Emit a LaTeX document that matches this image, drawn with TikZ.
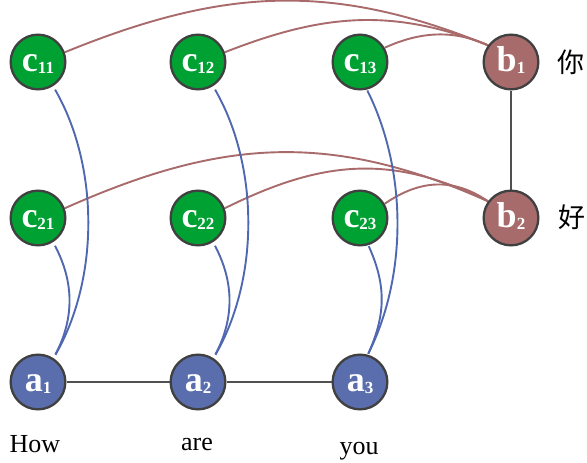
\documentclass[tikz,border=0pt]{standalone}
\usepackage{fontspec}
\usetikzlibrary{backgrounds}
\setmainfont{Liberation Serif}
\newfontfamily\cjk{Noto Sans CJK SC}
\definecolor{cgreen}{HTML}{00A133}
\definecolor{cbrown}{HTML}{A86B6B}
\definecolor{cblue}{HTML}{5A6EAD}
\definecolor{eblue}{HTML}{5068B0}
\definecolor{ered}{HTML}{A86A6A}
\definecolor{bord}{HTML}{404040}
\definecolor{lgray}{HTML}{505050}
\newcommand\nlab[2]{{\fontsize{36}{36}\selectfont\bfseries #1}{\fontsize{17}{17}\selectfont\bfseries\raisebox{-1.5pt}{#2}}}
\begin{document}
\begin{tikzpicture}[x=1pt,y=-1pt,
  vnode/.style={circle, draw=bord, line width=2.3pt, minimum size=54.7pt, inner sep=0pt,
    text=white, text height=19pt, text depth=0pt},
  gnode/.style={vnode, fill=cgreen},
  bnode/.style={vnode, fill=cbrown},
  anode/.style={vnode, fill=cblue},
  redge/.style={draw=ered, line width=1.9pt},
  bedge/.style={draw=eblue, line width=1.9pt},
  gedge/.style={draw=lgray, line width=2pt},
  word/.style={font=\fontsize{26}{26}\selectfont, anchor=base, inner sep=0pt},
  hanzi/.style={font=\cjk\fontsize{27}{27}\selectfont, inner sep=0pt},
]
\useasboundingbox (0,0) rectangle (587,463);
\node[gnode] (c11) at (38,62) {\nlab{c}{11}};
\node[gnode] (c12) at (198,62) {\nlab{c}{12}};
\node[gnode] (c13) at (360,62) {\nlab{c}{13}};
\node[bnode] (b1) at (511,62) {\nlab{b}{1}};
\node[gnode] (c21) at (38,218) {\nlab{c}{21}};
\node[gnode] (c22) at (198,218) {\nlab{c}{22}};
\node[gnode] (c23) at (360,218) {\nlab{c}{23}};
\node[bnode] (b2) at (511,218) {\nlab{b}{2}};
\node[anode] (a1) at (38,382) {\nlab{a}{1}};
\node[anode] (a2) at (198,382) {\nlab{a}{2}};
\node[anode] (a3) at (360,382) {\nlab{a}{3}};

\begin{scope}[on background layer]
% gray structure lines
\draw[gedge] (b1) -- (b2);
\draw[gedge] (a1) -- (a2);
\draw[gedge] (a2) -- (a3);

% red arcs row 1
\draw[redge] (c11.20) .. controls +(157,-64) and +(-157,-64) .. (b1.144);
\draw[redge] (c12.20) .. controls +(97,-38) and +(-97,-38) .. (b1.144);
\draw[redge] (c13.30) .. controls +(35,-16) and +(-35,-16) .. (b1.144);
% red arcs row 2
\draw[redge] (c21.20) .. controls +(157,-70) and +(-157,-70) .. (b2.144);
\draw[redge] (c22.20) .. controls +(97,-48) and +(-97,-48) .. (b2.144);
\draw[redge] (c23.30) .. controls +(35,-24) and +(-35,-24) .. (b2.144);

% blue arcs
\draw[bedge, shorten <=4pt, shorten >=4pt] (c11.-58) .. controls +(46,80) and +(46,-80) .. (a1.57);
\draw[bedge, shorten <=4pt, shorten >=4pt] (c21.-58) .. controls +(21,40) and +(21,-40) .. (a1.57);
\draw[bedge, shorten <=4pt, shorten >=4pt] (c12.-58) .. controls +(46,80) and +(46,-80) .. (a2.57);
\draw[bedge, shorten <=4pt, shorten >=4pt] (c22.-58) .. controls +(21,40) and +(21,-40) .. (a2.57);
\draw[bedge, shorten <=1pt, shorten >=1pt] (c13.-76) .. controls +(40,80) and +(40,-80) .. (a3.74);
\draw[bedge, shorten <=1pt, shorten >=1pt] (c23.-73) .. controls +(18,40) and +(18,-40) .. (a3.74);
\end{scope}

% labels
\node[word] (w1) at (35,452) {How};
\node[word] (w2) at (197,450) {are};
\node[word] (w3) at (359,454) {you};
\node[hanzi] (h1) at (571,62) {你};
\node[hanzi] (h2) at (572,217) {好};
\end{tikzpicture}
\end{document}
